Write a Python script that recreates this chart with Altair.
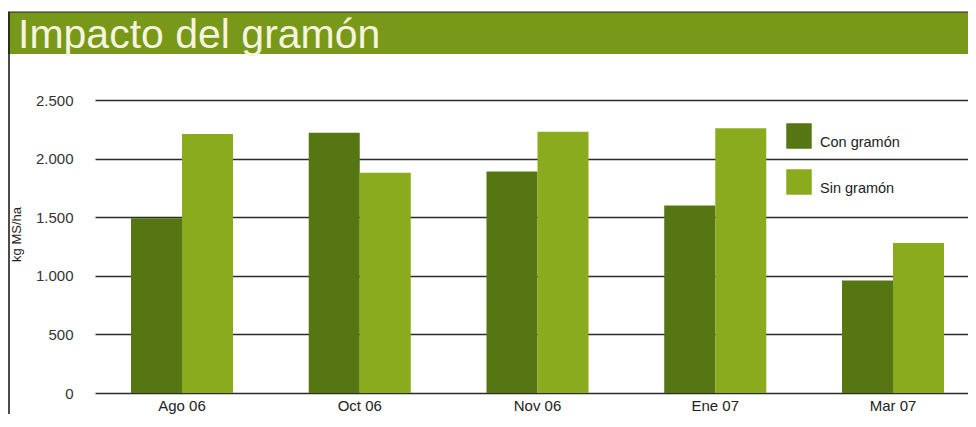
import altair as alt
import pandas as pd

months = ["Ago 06", "Oct 06", "Nov 06", "Ene 07", "Mar 07"]
con_gramon = [1490, 2220, 1890, 1600, 960]
sin_gramon = [2210, 1880, 2230, 2260, 1280]
series = ["Con gramón", "Sin gramón"]
colors = ["#567614", "#8bab1e"]
y_ticks = [0, 500, 1000, 1500, 2000, 2500]
title_text = "Impacto del gramón"
y_title = "kg MS/ha"

rows = []
for m, c, s in zip(months, con_gramon, sin_gramon):
    rows.append({"mes": m, "serie": series[0], "valor": c})
    rows.append({"mes": m, "serie": series[1], "valor": s})
df = pd.DataFrame(rows)

font = "Liberation Sans, Arial, Helvetica, sans-serif"

W, H = 873, 293

bars = alt.Chart(df).mark_bar().encode(
    x=alt.X("mes:N", sort=months, title=None,
            scale=alt.Scale(paddingInner=0.426, paddingOuter=0.1687, align=0.6),
            axis=alt.Axis(labelAngle=0, ticks=False, domain=False, grid=False,
                          labelFont=font, labelFontSize=15, labelColor="#222",
                          labelPadding=5)),
    xOffset=alt.XOffset("serie:N", sort=series, scale=alt.Scale(paddingInner=0, paddingOuter=0)),
    y=alt.Y("valor:Q", title=y_title,
            scale=alt.Scale(domain=[0, 2500], nice=False),
            axis=alt.Axis(values=y_ticks, ticks=False, domain=False, grid=True,
                          gridColor="#2b2b2b", gridWidth=1.5, gridOpacity=1,
                          labelFont=font, labelFontSize=15, labelColor="#333",
                          labelPadding=22,
                          labelExpr="replace(format(datum.value, ','), ',', '.')",
                          titleFont=font, titleFontSize=13, titleFontWeight="normal",
                          titleColor="#222", titleAngle=270, titleX=-79, titleY=134,
                          titleAlign="center", titleBaseline="middle")),
    color=alt.Color("serie:N", sort=series,
                    scale=alt.Scale(domain=series, range=colors),
                    legend=alt.Legend(title=None, orient="none", legendX=691, legendY=23,
                                      symbolType="square", symbolSize=650,
                                      symbolStrokeWidth=0, symbolOpacity=1,
                                      rowPadding=19, labelOffset=8,
                                      labelBaseline="top",
                                      labelFont=font, labelFontSize=14.5,
                                      labelColor="#222")),
)

deco = pd.DataFrame({"t": [title_text]})

band = alt.Chart(deco).mark_rect(color="#789819").encode(
    x=alt.value(-87), x2=alt.value(W), y=alt.value(-88), y2=alt.value(-46)
)
band_line = alt.Chart(deco).mark_rule(color="#222", strokeWidth=1).encode(
    x=alt.value(-87), x2=alt.value(W), y=alt.value(-88)
)
border = alt.Chart(deco).mark_rule(color="#111", strokeWidth=1.5).encode(
    x=alt.value(-86), y=alt.value(-88), y2=alt.value(314)
)
title = alt.Chart(deco).mark_text(
    align="left", baseline="alphabetic", font=font,
    fontSize=41, color="#f6f3de"
).encode(x=alt.value(-77), y=alt.value(-52), text="t:N")

chart = alt.layer(band, band_line, border, title, bars).properties(
    width=W, height=H,
    autosize=alt.AutoSizeParams(type="none"),
    padding={"left": 87, "top": 92, "right": 0, "bottom": 21},
    background="white",
).configure_view(stroke=None)

chart.save("out.html", embed_options={"renderer": "svg", "actions": False})
